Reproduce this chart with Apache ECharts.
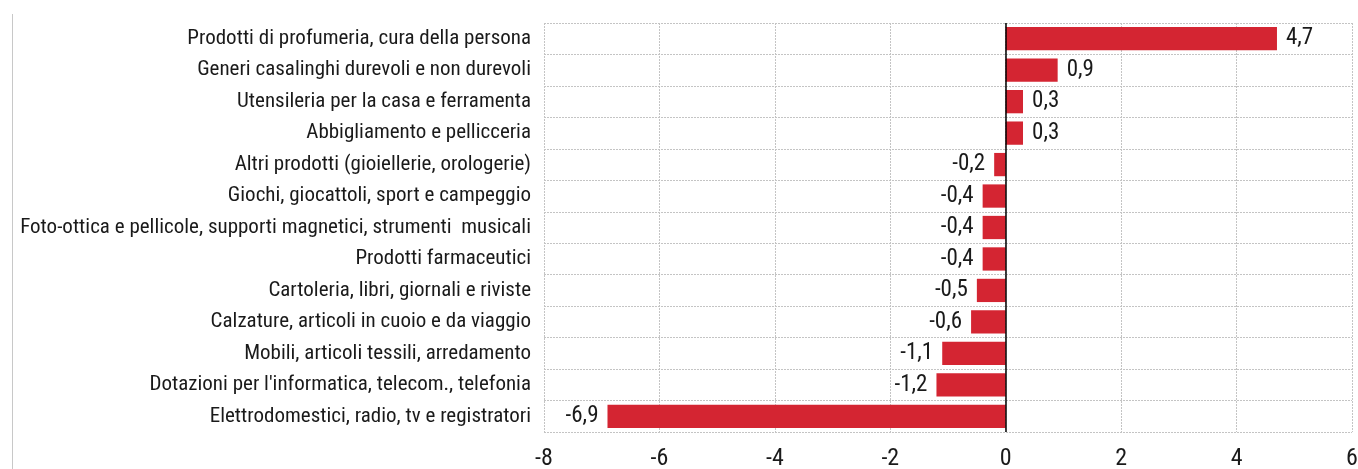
<!DOCTYPE html>
<html><head><meta charset="utf-8">
<script src="https://cdn.jsdelivr.net/npm/echarts@6/dist/echarts.min.js"></script>
<style>html,body{margin:0;padding:0;background:#fff}#c{width:1358px;height:469px}</style>
</head><body><div id="c"></div>
<script>
const categories = [
  "Prodotti di profumeria, cura della persona",
  "Generi casalinghi durevoli e non durevoli",
  "Utensileria per la casa e ferramenta",
  "Abbigliamento e pellicceria",
  "Altri prodotti (gioiellerie, orologerie)",
  "Giochi, giocattoli, sport e campeggio",
  "Foto-ottica e pellicole, supporti magnetici, strumenti  musicali",
  "Prodotti farmaceutici",
  "Cartoleria, libri, giornali e riviste",
  "Calzature, articoli in cuoio e da viaggio",
  "Mobili, articoli tessili, arredamento",
  "Dotazioni per l'informatica, telecom., telefonia",
  "Elettrodomestici, radio, tv e registratori"
];
const values = [4.7, 0.9, 0.3, 0.3, -0.2, -0.4, -0.4, -0.4, -0.5, -0.6, -1.1, -1.2, -6.9];
const xTicks = { min: -8, max: 6, interval: 2 };

const FONT = '"Roboto Condensed","Arial Narrow",sans-serif';
const chart = echarts.init(document.getElementById('c'));
chart.setOption({
  animation: false,
  grid: { left: 544, right: 6, top: 23, bottom: 37, outerBoundsMode: 'none', containLabel: false },
  graphic: [{ type: 'line', shape: { x1: 12.5, y1: 14, x2: 12.5, y2: 469 }, style: { stroke: '#c8c8c8', lineWidth: 1 } }],
  xAxis: {
    type: 'value', min: xTicks.min, max: xTicks.max, interval: xTicks.interval,
    axisLine: { show: false }, axisTick: { show: false },
    axisLabel: { fontFamily: FONT, fontSize: 24, color: '#1a1a1a', margin: 15 },
    splitLine: { show: true, lineStyle: { color: '#c4c4c4', type: [2, 1], width: 1 } }
  },
  yAxis: {
    type: 'category', data: categories, inverse: true,
    axisLine: { show: false }, axisTick: { show: false },
    axisLabel: { fontFamily: FONT, fontSize: 21, color: '#1a1a1a', margin: 13 },
    splitLine: { show: true, interval: 0, lineStyle: { color: '#c4c4c4', type: [2, 1], width: 1 } },
    splitArea: { show: false }
  },
  series: [{
    type: 'bar',
    barCategoryGap: '26%',
    itemStyle: { color: '#D42532' },
    data: values.map(v => ({ value: v, label: { position: v < 0 ? 'left' : 'right' } })),
    label: {
      show: true, distance: 9, fontFamily: FONT, fontSize: 23, color: '#1a1a1a',
      formatter: p => String(p.value).replace('.', ',')
    },
    markLine: {
      silent: true, symbol: 'none', label: { show: false },
      lineStyle: { color: '#000', type: 'solid', width: 1.5 },
      data: [{ xAxis: 0 }]
    }
  }]
});
</script></body></html>
